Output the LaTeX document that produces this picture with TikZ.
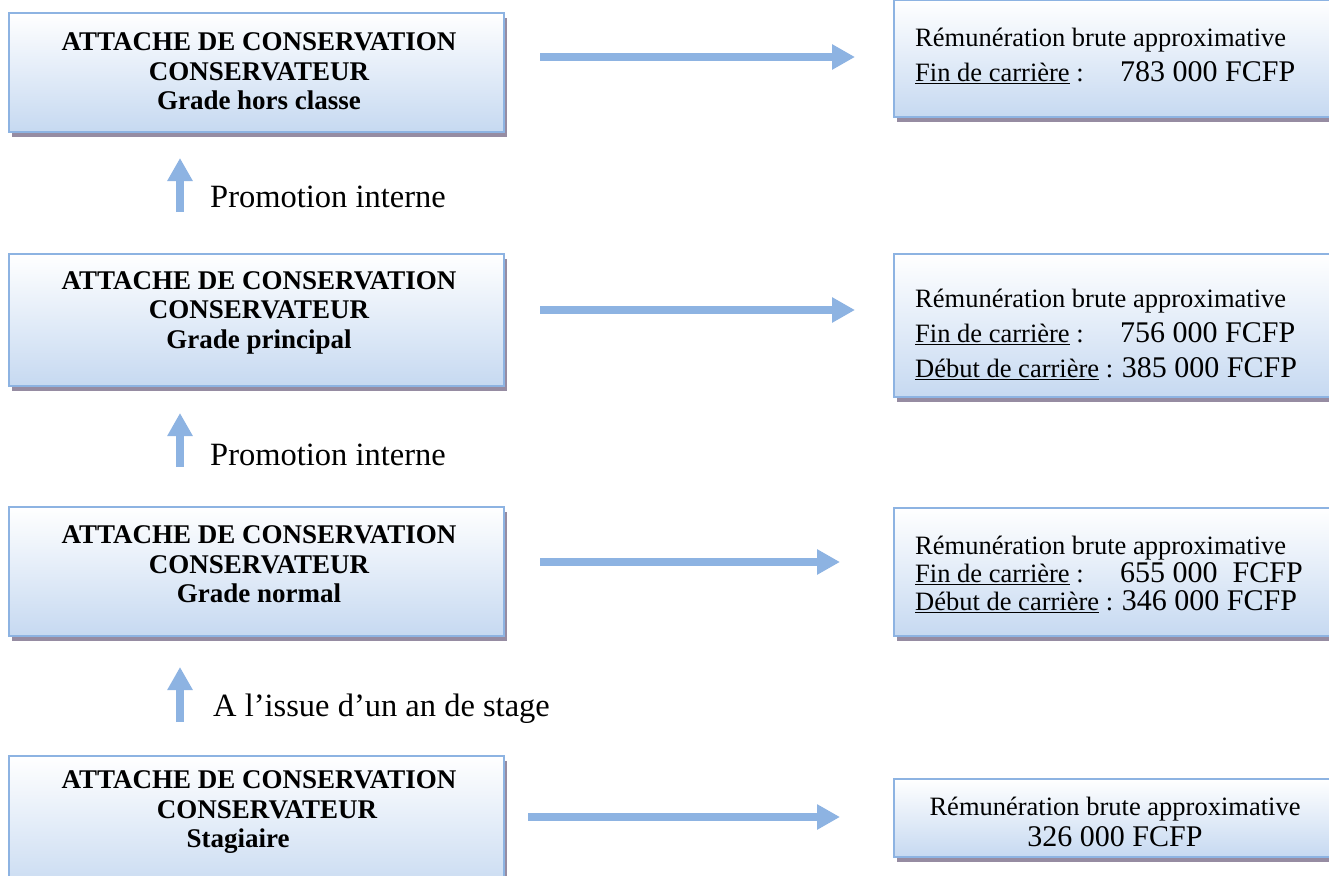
\documentclass[tikz,border=0pt]{standalone}
\usepackage{fontspec}
\setmainfont{Liberation Serif}
\usetikzlibrary{shadows,arrows.meta}

\definecolor{boxblue}{RGB}{198,217,241}
\definecolor{boxline}{RGB}{141,179,226}
\definecolor{shadowgray}{RGB}{150,140,162}
\newcommand{\montant}[1]{{\fontsize{30}{34}\selectfont #1}}

\tikzset{
  gradebox/.style={rectangle, draw=boxline, line width=2pt, top color=white, bottom color=boxblue,
    anchor=north west, minimum width=495,
    drop shadow={shadow xshift=3pt, shadow yshift=-5pt, fill=shadowgray, opacity=1}},
  paybox/.style={gradebox, minimum width=480},
  gradetxt/.style={font=\bfseries\fontsize{27}{29.5}\selectfont, align=center, inner sep=0pt},
  paytxt/.style={font=\fontsize{26.5}{35}\selectfont, align=left, anchor=west, inner sep=0pt},
  steplabel/.style={font=\fontsize{32.5}{36}\selectfont, anchor=west, inner sep=0pt},
  rarrow/.style={draw=boxline, line width=8pt, -{Triangle[width=24pt,length=23pt]}}
}

\begin{document}
\begin{tikzpicture}[x=1pt,y=-1pt]
            \clip (0,0) rectangle (1329,875);

            % Grades
            \node[gradebox, minimum height=119] (b1) at (8,12) {};
            \node[gradebox, minimum height=132] (b2) at (8,253) {};
            \node[gradebox, minimum height=129] (b3) at (8,506) {};
            \node[gradebox, minimum height=140] (b4) at (8,755) {};
            \node[gradetxt] (t1) at (259,71.5) {ATTACHE DE CONSERVATION\\CONSERVATEUR\\Grade hors classe};
            \node[gradetxt] (t2) at (259,312.5) {ATTACHE DE CONSERVATION\\CONSERVATEUR\\Grade principal};
            \node[gradetxt] (t3) at (259,564.5) {ATTACHE DE CONSERVATION\\CONSERVATEUR\\Grade normal};
            \node[gradetxt] (t4) at (259,812.5) {ATTACHE DE CONSERVATION\\\hspace*{16pt}CONSERVATEUR\\Stagiaire\hspace*{42pt}};

            % Remunerations
            \node[paybox, minimum height=117] (r1) at (893,-1) {};
            \node[paybox, minimum height=143] (r2) at (893,253) {};
            \node[paybox, minimum height=128] (r3) at (893,507) {};
            \node[paybox, minimum height=78] (r4) at (893,778) {};
            \node[paytxt] (p1) at (915,55.5) {Rémunération brute approximative\\
              \makebox[205pt][l]{\underline{Fin de carrière} :}\montant{783 000 FCFP}};
            \node[paytxt] (p2) at (915,334) {Rémunération brute approximative\\
              \makebox[205pt][l]{\underline{Fin de carrière} :}\montant{756 000 FCFP}\\
              \underline{Début de carrière} : \montant{385 000 FCFP}};
            \node[paytxt, font=\fontsize{26.5}{28}\selectfont] (p3) at (915,574.5) {Rémunération brute approximative\\
              \makebox[205pt][l]{\underline{Fin de carrière} :}\montant{655 000\ \ FCFP}\\
              \underline{Début de carrière} : \montant{346 000 FCFP}};
            \node[paytxt, font=\fontsize{26.5}{31}\selectfont, align=center, anchor=center] (p4) at (1115,821.5) {Rémunération brute approximative\\
              \montant{326 000 FCFP}};

            % Labels
            \node[steplabel] (l1) at (210,197) {Promotion interne};
            \node[steplabel] (l2) at (210,455) {Promotion interne};
            \node[steplabel] (l3) at (213,709) {A l’issue d’un an de stage};

            % Arrows
            \draw[rarrow, shorten <=41pt, shorten >=25pt] ([xshift=-76.5pt]b2.north) -- ([xshift=-76.5pt]b1.south);
            \draw[rarrow, shorten <=39pt, shorten >=26pt] ([xshift=-76.5pt]b3.north) -- ([xshift=-76.5pt]b2.south);
            \draw[rarrow, shorten <=33pt, shorten >=30pt] ([xshift=-76.5pt]b4.north) -- ([xshift=-76.5pt]b3.south);
            \draw[rarrow, shorten <=35pt, shorten >=38pt] (b1.east |- 0,57) -- (r1.west |- 0,57);
            \draw[rarrow, shorten <=35pt, shorten >=38pt] (b2.east |- 0,310) -- (r2.west |- 0,310);
            \draw[rarrow, shorten <=35pt, shorten >=53pt] (b3.east |- 0,562) -- (r3.west |- 0,562);
            \draw[rarrow, shorten <=23pt, shorten >=53pt] (b4.east |- 0,817) -- (r4.west |- 0,817);
\end{tikzpicture}
\end{document}
